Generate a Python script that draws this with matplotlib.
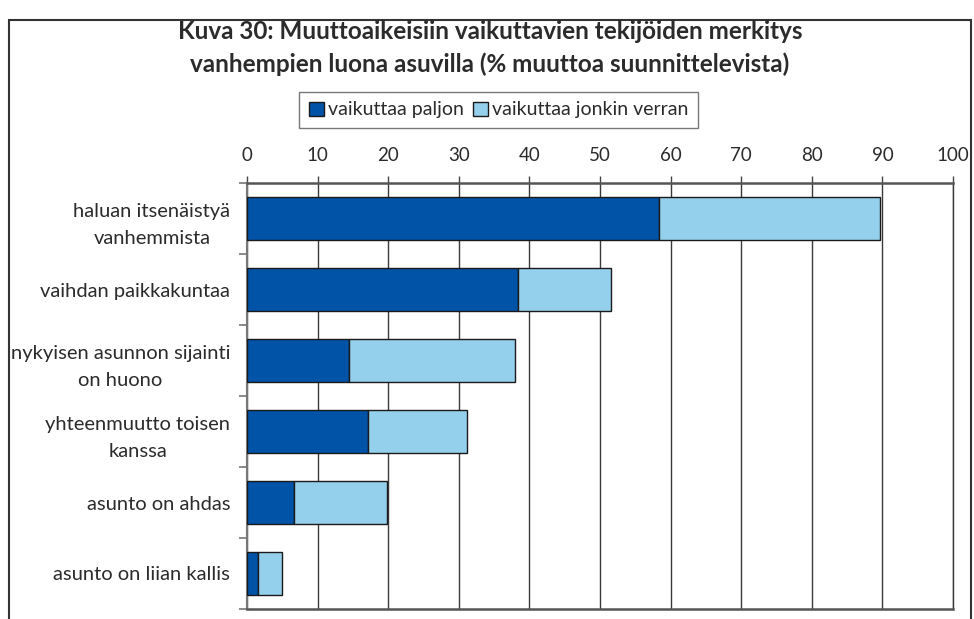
import matplotlib
matplotlib.use("Agg")
import matplotlib.pyplot as plt
from matplotlib.patches import Rectangle
import numpy as np

# Data
categories = [
    "haluan itsenäistyä\nvanhemmista",
    "vaihdan paikkakuntaa",
    "nykyisen asunnon sijainti\non huono",
    "yhteenmuutto toisen\nkanssa",
    "asunto on ahdas",
    "asunto on liian kallis",
]
paljon = [58.3, 38.4, 14.4, 17.1, 6.6, 1.6]
jonkin_verran = [31.3, 13.2, 23.5, 14.0, 13.2, 3.4]
series_names = ["vaikuttaa paljon", "vaikuttaa jonkin verran"]
x_ticks = list(range(0, 101, 10))

title = ("Kuva 30: Muuttoaikeisiin vaikuttavien tekijöiden merkitys\n"
         "vanhempien luona asuvilla (% muuttoa suunnittelevista)")

dark_blue = "#0053A6"
light_blue = "#94CFEC"
text_col = "#2b2b2b"

plt.rcParams['font.family'] = ['Lato', 'DejaVu Sans']

fig = plt.figure(figsize=(9.74, 6.19), dpi=100)
ax = fig.add_axes([247 / 974, 1 - 609 / 619, (953 - 247) / 974, (609 - 183) / 619])

y = np.arange(len(categories))
b1 = ax.barh(y, paljon, height=0.6, color=dark_blue, edgecolor="#1a1a1a",
             linewidth=1, label=series_names[0], zorder=3)
b2 = ax.barh(y, jonkin_verran, left=paljon, height=0.6, color=light_blue,
             edgecolor="#1a1a1a", linewidth=1, label=series_names[1], zorder=3)

ax.set_xlim(0, 100)
ax.set_ylim(len(categories) - 0.5, -0.5)

# x axis on top with vertical grid
ax.xaxis.tick_top()
ax.set_xticks(x_ticks)
ax.tick_params(axis="x", direction="out", length=5, width=1, color="#444444",
               labelsize=13.5, labelcolor=text_col, pad=9)
ax.grid(axis="x", color="#3a3a3a", linewidth=1, zorder=0)

# category labels, ticks between categories
ax.set_yticks(y)
ax.set_yticklabels(categories, multialignment="center", linespacing=1.7)
ax.set_yticks(np.arange(-0.5, len(categories), 1), minor=True)
ax.tick_params(axis="y", which="major", length=0, labelsize=14.5,
               labelcolor=text_col, pad=12)
ax.tick_params(axis="y", which="minor", direction="out", length=6, width=1.2,
               color="#777777")

for side in ["top", "bottom"]:
    ax.spines[side].set_color("#555555")
    ax.spines[side].set_linewidth(1.8)
ax.spines["left"].set_color("#777777")
ax.spines["left"].set_linewidth(1.5)
ax.spines["right"].set_color("#3a3a3a")
ax.spines["right"].set_linewidth(1)

fig.text(490 / 974, 1 - 48 / 619, title, ha="center", va="center",
         fontsize=17.5, fontweight="bold", color=text_col, linespacing=1.45)

fig.legend(handles=[b1, b2], labels=series_names, loc="center",
           bbox_to_anchor=(498.5 / 974, 1 - 110 / 619), ncol=2, fontsize=14,
           frameon=True, fancybox=False, edgecolor="#555555", handlelength=0.75,
           handleheight=0.75, handletextpad=0.2, columnspacing=0.5,
           borderpad=0.5, labelcolor=text_col)

# outer chart frame
fig.add_artist(Rectangle((9 / 974, -0.05), (971 - 9) / 974, 1 - 20 / 619 + 0.05,
                         transform=fig.transFigure, fill=False,
                         edgecolor="#333333", linewidth=1.5))

fig.savefig("out.png", dpi=100)
